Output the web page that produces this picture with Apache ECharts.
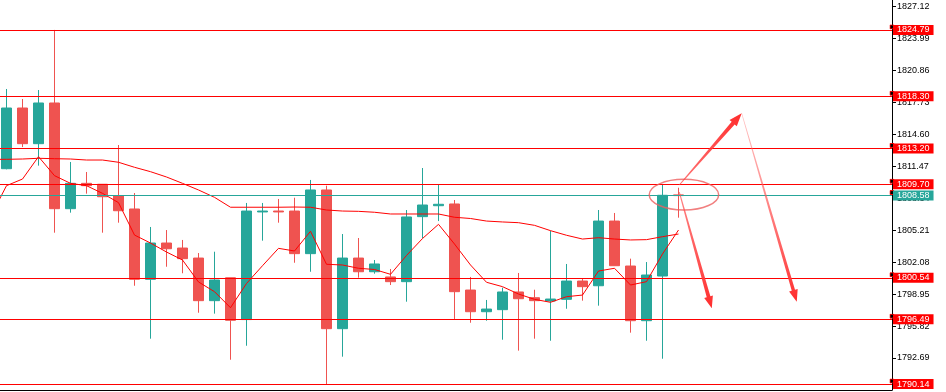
<!DOCTYPE html>
<html><head><meta charset="utf-8">
<script src="https://cdn.jsdelivr.net/npm/echarts@6/dist/echarts.min.js"></script>
<style>html,body{margin:0;padding:0;background:#fff}#c{width:946px;height:392px}</style>
</head><body><div id="c"></div>
<script>
// ---- data (bar index 0..42) ----
const opens  = [1811.21,1817.15,1813.66,1817.64,1807.30,1809.78,1809.69,1808.57,1807.27,1800.39,1803.94,1803.45,1802.47,1798.30,1800.54,1796.45,1806.98,1807.07,1807.07,1802.90,1809.13,1795.56,1802.47,1801.13,1800.62,1800.16,1806.52,1807.59,1807.76,1799.34,1797.22,1797.42,1799.15,1798.59,1798.27,1798.43,1800.22,1799.76,1806.09,1801.69,1796.34,1800.71,1808.65];
const closes = [1817.15,1813.66,1817.64,1807.30,1809.78,1809.55,1808.47,1807.10,1800.39,1803.94,1803.38,1802.41,1798.30,1800.32,1796.38,1807.07,1807.07,1806.98,1802.90,1809.13,1795.56,1802.47,1801.13,1801.89,1800.16,1806.49,1807.66,1807.73,1799.18,1797.22,1797.48,1799.15,1798.49,1798.30,1798.46,1800.22,1799.67,1806.09,1801.72,1796.34,1800.81,1808.61,1808.58];
const lows   = [1811.15,1813.33,1811.51,1804.95,1806.91,1808.77,1804.95,1805.93,1799.76,1794.58,1801.62,1800.98,1797.12,1797.03,1792.52,1793.89,1804.17,1805.93,1802.01,1801.13,1790.14,1792.82,1800.55,1800.94,1799.83,1798.20,1804.40,1806.09,1796.51,1796.14,1796.34,1794.48,1793.41,1794.58,1794.38,1797.51,1798.30,1797.81,1801.72,1795.17,1794.38,1792.62,1806.42];
const highs  = [1819.01,1818.03,1818.91,1824.79,1811.87,1810.89,1809.70,1813.53,1808.83,1805.51,1805.21,1804.24,1802.96,1803.09,1800.54,1807.86,1807.86,1808.25,1808.37,1810.11,1809.55,1804.82,1804.43,1802.28,1801.40,1807.17,1811.28,1809.65,1808.15,1800.62,1798.37,1799.57,1801.01,1799.37,1805.15,1801.89,1800.49,1807.17,1806.88,1802.41,1802.08,1809.70,1809.35];
// moving averages, bar index -1..42
const maFast = [1806.52,1809.55,1810.20,1812.39,1810.53,1809.78,1809.55,1808.80,1807.89,1804.72,1803.94,1803.06,1802.28,1800.13,1799.18,1797.61,1799.98,1801.72,1803.42,1803.16,1805.09,1801.86,1801.79,1801.47,1801.35,1800.88,1802.72,1804.38,1805.77,1803.84,1801.79,1800.10,1799.67,1798.95,1798.43,1798.14,1798.69,1798.85,1801.20,1801.47,1799.83,1800.16,1802.87,1805.21];
const maSlow = [1812.13,1812.13,1812.16,1812.23,1812.19,1812.16,1812.06,1812.06,1811.84,1811.35,1810.92,1810.40,1809.78,1809.13,1808.41,1807.44,1807.44,1807.44,1807.44,1807.46,1807.44,1807.17,1807.07,1807.04,1806.95,1806.78,1806.78,1806.78,1806.78,1806.46,1806.34,1806.09,1806.00,1805.93,1805.67,1805.15,1804.70,1804.33,1804.46,1804.33,1804.24,1804.27,1804.56,1804.82];
const levels = [1824.79,1818.30,1813.20,1809.70,1800.54,1796.49,1790.14];
const bidPrice = 1808.58;
const priceMin = 1789.56, priceStep = 3.13, priceMax = 1827.717;
// hand-drawn annotations in data space [bar index, price]
const ellipseCenter = [42.34, 1808.67], ellipseRadius = [2.17, 1.50];
const arrowFrom = [[42.05,1809.62],[45.95,1816.63],[42.05,1808.93]];
const arrowTo   = [[45.95,1816.63],[49.39,1798.20],[44.08,1797.55]];

const UP = '#26a69a', DOWN = '#ef5350', LVL = '#ff0000';
const FONT = '"Liberation Sans", Arial, sans-serif';
const candles = opens.map((o, i) => [i, o, closes[i], lows[i], highs[i]]);
const fastData = maFast.map((v, i) => [i - 1, v]);
const slowData = maSlow.map((v, i) => [i - 1, v]);

const sq = 'image://data:image/svg+xml;charset=utf-8,' + encodeURIComponent(
  '<svg xmlns="http://www.w3.org/2000/svg" width="5" height="5"><rect x="0.5" y="0.5" width="4" height="4" fill="#000" stroke="#ff0000" stroke-width="1"/></svg>');

const arrowStyles = [
  {w0: 0.5, w1: 2.0, head: 13, hw: 4.8, c0: 'rgba(255,70,70,0.75)', c1: 'rgba(255,45,45,1)'},
  {w0: 0.3, w1: 1.7, head: 12, hw: 4.5, c0: 'rgba(255,120,120,0.45)', c1: 'rgba(255,45,45,1)'},
  {w0: 0.5, w1: 1.9, head: 12, hw: 4.5, c0: 'rgba(255,80,80,0.7)', c1: 'rgba(255,45,45,1)'}
];
function arrowShape(p0, p1, st) {
  const dx = p1[0] - p0[0], dy = p1[1] - p0[1];
  const len = Math.hypot(dx, dy);
  const ux = dx / len, uy = dy / len, nx = -uy, ny = ux;
  const bx = p1[0] - ux * st.head, by = p1[1] - uy * st.head;
  const pts = [
    [p0[0] + nx * st.w0, p0[1] + ny * st.w0],
    [bx + nx * st.w1, by + ny * st.w1],
    [bx + nx * st.hw, by + ny * st.hw],
    [p1[0], p1[1]],
    [bx - nx * st.hw, by - ny * st.hw],
    [bx - nx * st.w1, by - ny * st.w1],
    [p0[0] - nx * st.w0, p0[1] - ny * st.w0]
  ];
  return {type: 'polygon', shape: {points: pts}, style: {
    fill: {type: 'linear', x: p0[0], y: p0[1], x2: p1[0], y2: p1[1], global: true,
      colorStops: [{offset: 0, color: st.c0}, {offset: 1, color: st.c1}]}}};
}

const chart = echarts.init(document.getElementById('c'), null, {renderer: 'canvas'});
chart.setOption({
  animation: false,
  backgroundColor: '#fff',
  grid: {left: 0, right: 54, top: 0, bottom: 2, containLabel: false, outerBoundsMode: 'none'},
  xAxis: {type: 'value', min: -0.40625, max: 55.34375,
    axisLine: {show: true, onZero: false, lineStyle: {color: '#000', width: 1}},
    axisTick: {show: false}, axisLabel: {show: false}, splitLine: {show: false}},
  yAxis: {type: 'value', position: 'right', min: priceMin, max: priceMax, interval: priceStep,
    axisLine: {show: true, onZero: false, lineStyle: {color: '#000', width: 1}},
    axisTick: {show: true, length: 4, lineStyle: {color: '#000'}},
    splitLine: {show: false},
    axisLabel: {show: true, color: '#000', fontSize: 9, fontFamily: FONT, margin: 5,
      showMinLabel: false, showMaxLabel: false, formatter: v => v.toFixed(2)}},
  series: [
    {type: 'candlestick', data: candles, barWidth: 10, silent: true,
      itemStyle: {color: UP, color0: DOWN, borderColor: UP, borderColor0: DOWN, borderWidth: 1},
      markLine: {silent: true, animation: false, symbol: ['none', sq], symbolSize: 5, symbolOffset: [0, [-3, 0]],
        lineStyle: {color: LVL, width: 1, type: 'solid'},
        label: {show: true, position: 'end', distance: 1, formatter: p => Number(p.value).toFixed(2),
          color: '#fff', backgroundColor: LVL, fontSize: 9, fontFamily: FONT, lineHeight: 9, padding: [1, 4, 0, 4]},
        emphasis: {disabled: true},
        data: levels.map(v => ({yAxis: v})).concat([{yAxis: bidPrice, symbol: 'none',
          lineStyle: {color: UP, width: 1, type: 'solid'}, label: {backgroundColor: UP}}])
      }},
    {type: 'line', data: slowData, showSymbol: false, symbol: 'none', silent: true,
      lineStyle: {color: LVL, width: 1}, z: 3},
    {type: 'line', data: fastData, showSymbol: false, symbol: 'none', silent: true,
      lineStyle: {color: LVL, width: 1}, z: 3},
    {type: 'custom', coordinateSystem: 'cartesian2d', data: [ellipseCenter], clip: false, silent: true, z: 6,
      renderItem: function (params, api) {
        const c = api.coord(ellipseCenter);
        const s = api.size(ellipseRadius);
        const children = [{type: 'ellipse', shape: {cx: c[0], cy: c[1], rx: s[0], ry: s[1]},
          style: {fill: 'none', stroke: 'rgba(238,95,95,0.8)', lineWidth: 1.5}}];
        arrowFrom.forEach((f, k) => children.push(arrowShape(api.coord(f), api.coord(arrowTo[k]), arrowStyles[k])));
        return {type: 'group', children: children};
      }}
  ]
});
</script></body></html>
